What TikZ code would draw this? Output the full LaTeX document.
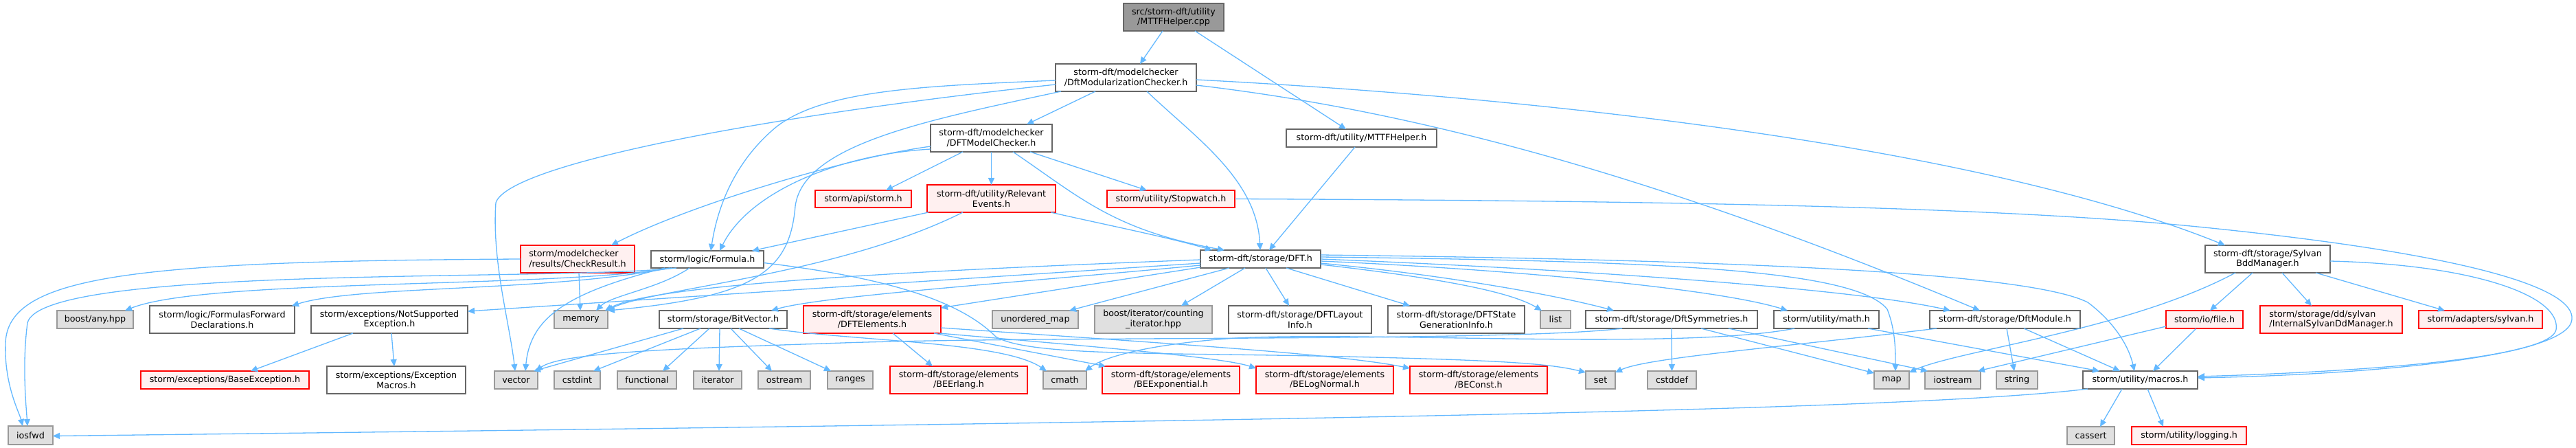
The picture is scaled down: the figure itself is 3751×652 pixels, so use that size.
\documentclass[tikz,border=0pt]{standalone}
\usepackage{fontspec}
\setmainfont{DejaVu Sans}
\usetikzlibrary{arrows.meta,calc}
\definecolor{edgec}{HTML}{63B8FF}
\definecolor{redb}{HTML}{FF0000}
\definecolor{redf}{HTML}{FFF0F0}
\definecolor{grayf}{HTML}{E0E0E0}
\definecolor{grayb}{HTML}{999999}
\definecolor{whiteb}{HTML}{666666}
\definecolor{topf}{HTML}{999999}
\newcommand{\mkbox}[7]{\node[#6, minimum width={(#4-#2)*1pt}, minimum height={(#5-#3)*1pt}] (#1) at ({(#2+#4)/2},{(#3+#5)/2}) {#7};}
\begin{document}
\begin{tikzpicture}[x=1pt,y=-1pt,
  box/.style={draw, rectangle, inner sep=0pt, outer sep=0pt, line width=1.6pt, align=center, font=\fontsize{12.7}{14.7}\selectfont, text=black},
  wbox/.style={box, draw=whiteb, fill=white},
  gbox/.style={box, draw=grayb, fill=grayf},
  rbox/.style={box, draw=redb, fill=redf},
  tbox/.style={box, draw=whiteb, fill=topf},
  dep/.style={draw=edgec, line width=1.3pt, -{Triangle[length=10pt,width=9pt]}}
]
\useasboundingbox (0,0) rectangle (3751,652);
% nodes
\mkbox{cpp}{1636}{5}{1782}{45}{tbox}{src/storm-dft/utility\\/MTTFHelper.cpp}
\mkbox{dmc}{1537}{93}{1742}{133}{wbox}{storm-dft/modelchecker\\/DftModularizationChecker.h}
\mkbox{mck}{1355}{181}{1532}{221}{wbox}{storm-dft/modelchecker\\/DFTModelChecker.h}
\mkbox{mth}{1873}{188}{2092}{214}{wbox}{storm-dft/utility/MTTFHelper.h}
\mkbox{api}{1187}{277}{1327}{302}{rbox}{storm/api/storm.h}
\mkbox{rel}{1350}{269}{1537}{309}{rbox}{storm-dft/utility/Relevant\\Events.h}
\mkbox{stw}{1612}{277}{1798}{302}{rbox}{storm/utility/Stopwatch.h}
\mkbox{chk}{758}{357}{924}{397}{rbox,align=left}{storm/modelchecker\\/results/CheckResult.h}
\mkbox{frm}{948}{365}{1112}{390}{wbox}{storm/logic/Formula.h}
\mkbox{dft}{1748}{364}{1923}{390}{wbox}{storm-dft/storage/DFT.h}
\mkbox{syl}{3211}{357}{3393}{397}{wbox}{storm-dft/storage/Sylvan\\BddManager.h}
\mkbox{any}{83}{452}{194}{478}{gbox}{boost/any.hpp}
\mkbox{ffd}{218}{445}{429}{485}{wbox}{storm/logic/FormulasForward\\Declarations.h}
\mkbox{nse}{453}{445}{681}{485}{wbox}{storm/exceptions/NotSupported\\Exception.h}
\mkbox{mem}{807}{452}{885}{478}{gbox}{memory}
\mkbox{bv}{960}{452}{1146}{478}{wbox}{storm/storage/BitVector.h}
\mkbox{ele}{1170}{445}{1370}{485}{rbox}{storm-dft/storage/elements\\/DFTElements.h}
\mkbox{umap}{1445}{452}{1570}{478}{gbox}{unordered\_map}
\mkbox{cnt}{1594}{445}{1765}{485}{gbox}{boost/iterator/counting\\\_iterator.hpp}
\mkbox{lay}{1789}{445}{1997}{485}{wbox}{storm-dft/storage/DFTLayout\\Info.h}
\mkbox{sgi}{2021}{445}{2220}{485}{wbox}{storm-dft/storage/DFTState\\GenerationInfo.h}
\mkbox{lst}{2243}{452}{2287}{478}{gbox}{list}
\mkbox{sym}{2309}{452}{2559}{478}{wbox}{storm-dft/storage/DftSymmetries.h}
\mkbox{mat}{2583}{452}{2736}{478}{wbox}{storm/utility/math.h}
\mkbox{mod}{2810}{452}{3029}{478}{wbox}{storm-dft/storage/DftModule.h}
\mkbox{fil}{3154}{452}{3266}{478}{rbox}{storm/io/file.h}
\mkbox{isd}{3291}{445}{3498}{485}{rbox,align=left}{storm/storage/dd/sylvan\\/InternalSylvanDdManager.h}
\mkbox{ads}{3522}{452}{3702}{478}{rbox}{storm/adapters/sylvan.h}
\mkbox{bex}{205}{540}{450}{566}{rbox}{storm/exceptions/BaseException.h}
\mkbox{exm}{476}{533}{678}{573}{wbox}{storm/exceptions/Exception\\Macros.h}
\mkbox{vec}{720}{540}{783}{566}{gbox}{vector}
\mkbox{cst}{807}{540}{874}{566}{gbox}{cstdint}
\mkbox{fun}{899}{540}{985}{566}{gbox}{functional}
\mkbox{itr}{1010}{540}{1080}{566}{gbox}{iterator}
\mkbox{ost}{1104}{540}{1180}{566}{gbox}{ostream}
\mkbox{rng}{1205}{540}{1271}{566}{gbox}{ranges}
\mkbox{ber}{1296}{533}{1496}{573}{rbox}{storm-dft/storage/elements\\/BEErlang.h}
\mkbox{cma}{1519}{540}{1582}{566}{gbox}{cmath}
\mkbox{bee}{1605}{533}{1805}{573}{rbox}{storm-dft/storage/elements\\/BEExponential.h}
\mkbox{bel}{1829}{533}{2029}{573}{rbox}{storm-dft/storage/elements\\/BELogNormal.h}
\mkbox{bec}{2053}{533}{2253}{573}{rbox}{storm-dft/storage/elements\\/BEConst.h}
\mkbox{set}{2309}{540}{2352}{566}{gbox}{set}
\mkbox{csd}{2399}{540}{2470}{566}{gbox}{cstddef}
\mkbox{map}{2729}{540}{2780}{566}{gbox}{map}
\mkbox{ios}{2803}{540}{2884}{566}{gbox}{iostream}
\mkbox{str}{2907}{540}{2967}{566}{gbox}{string}
\mkbox{mac}{3033}{540}{3200}{566}{wbox}{storm/utility/macros.h}
\mkbox{iof}{12}{620}{77}{647}{gbox}{iosfwd}
\mkbox{cas}{3010}{621}{3079}{647}{gbox}{cassert}
\mkbox{log}{3104}{621}{3271}{647}{rbox}{storm/utility/logging.h}
% edges
\draw[dep] ($(cpp.south west)+(57,0)$) -- ($(dmc.north west)+(123,0)$);
\draw[dep] ($(cpp.south west)+(104,0)$) -- ($(mth.north west)+(87,0)$);
\draw[dep] ($(mth.south west)+(100,0)$) -- ($(dft.north west)+(100,0)$);
\draw[dep] ($(dmc.south west)+(58,0)$) -- ($(mck.north west)+(140,0)$);
\draw[dep] ($(dmc.south west)+(133,0)$) .. controls (1740,200) and (1830,260) .. ($(dft.north west)+(87,0)$);
\draw[dep] ($(dmc.east)+(0,3)$) .. controls (2300,145) and (2900,220) .. ($(syl.north west)+(29,0)$);
\draw[dep] ($(dmc.east)+(0,11)$) .. controls (2050,160) and (2400,250) .. ($(mod.north west)+(73,0)$);
\draw[dep] ($(dmc.west)+(0,4)$) .. controls (1350,125) and (1200,130) .. (1130,185) .. controls (1070,235) and (1045,300) .. ($(frm.north west)+(87,0)$);
\draw[dep] ($(dmc.west)+(0,10)$) .. controls (1100,170) and (740,240) .. (722,295) .. controls (716,380) and (742,470) .. ($(vec.north west)+(30,0)$);
\draw[dep] ($(dmc.south west)+(8,0)$) .. controls (1350,175) and (1170,210) .. (1158,300) .. controls (1150,395) and (1100,432) .. ($(mem.north east)+(0,0)$);
\draw[dep] ($(mck.south west)+(47,0)$) -- ($(api.north west)+(103,0)$);
\draw[dep] (mck.south) -- (rel.north);
\draw[dep] ($(mck.south west)+(145,0)$) -- ($(stw.north west)+(58,0)$);
\draw[dep] ($(mck.south west)+(120,0)$) .. controls (1570,285) and (1620,335) .. ($(dft.north west)+(35,0)$);
\draw[dep] ($(mck.west)+(0,12)$) .. controls (1230,230) and (1000,300) .. ($(chk.north west)+(132,0)$);
\draw[dep] ($(mck.west)+(0,16)$) .. controls (1220,225) and (1090,280) .. ($(frm.north west)+(100,0)$);
\draw[dep] ($(rel.south west)+(180,0)$) .. controls (1600,325) and (1700,345) .. ($(dft.north west)+(17,0)$);
\draw[dep] ($(rel.south west)+(2,0)$) -- ($(frm.north west)+(147,0)$);
\draw[dep] ($(rel.south west)+(52,0)$) .. controls (1220,400) and (950,420) .. ($(mem.north east)+(-2,0)$);
\draw[dep] ($(chk.south west)+(85,0)$) -- ($(mem.north west)+(38,0)$);
\draw[dep] (chk.west) .. controls (200,380) and (10,400) .. (8,500) .. controls (6,560) and (28,600) .. ($(iof.north west)+(21,0)$);
\draw[dep] ($(frm.south west)+(37,0)$) .. controls (800,410) and (60,385) .. (40,470) .. controls (32,530) and (38,590) .. ($(iof.north west)+(28,0)$);
\draw[dep] ($(frm.south west)+(30,0)$) .. controls (800,420) and (300,405) .. ($(any.north east)+(-12,0)$);
\draw[dep] ($(frm.south west)+(27,0)$) .. controls (800,425) and (520,415) .. ($(ffd.north east)+(-4,0)$);
\draw[dep] ($(frm.south west)+(56,0)$) .. controls (960,420) and (890,430) .. ($(mem.north west)+(61,0)$);
\draw[dep] ($(frm.south west)+(20,0)$) .. controls (830,425) and (772,460) .. ($(vec.north west)+(45,0)$);
\draw[dep] ($(frm.east)+(0,5)$) .. controls (1300,405) and (1400,440) .. (1450,490) .. controls (1500,520) and (1700,512) .. (2000,520) .. controls (2200,525) and (2260,530) .. ($(set.north west)+(0,2)$);
\draw[dep] ($(dft.west)+(0,6)$) -- ($(nse.east)+(0,-12)$);
\draw[dep] ($(dft.west)+(0,1)$) .. controls (1300,395) and (950,415) .. ($(mem.north east)+(-4,0)$);
\draw[dep] ($(dft.west)+(0,9)$) .. controls (1500,410) and (1200,430) .. ($(bv.north east)+(-23,0)$);
\draw[dep] ($(dft.west)+(0,12)$) -- ($(ele.east)+(0,-17)$);
\draw[dep] ($(dft.south west)+(42,0)$) -- ($(umap.north east)+(-13,0)$);
\draw[dep] ($(dft.south west)+(65,0)$) -- ($(cnt.north west)+(126,0)$);
\draw[dep] ($(dft.south west)+(95,0)$) -- ($(lay.north west)+(88,0)$);
\draw[dep] ($(dft.south west)+(125,0)$) -- ($(sgi.north west)+(32,0)$);
\draw[dep] ($(dft.east)+(0,8)$) .. controls (2100,405) and (2200,425) .. ($(lst.north west)+(2,0)$);
\draw[dep] ($(dft.east)+(0,6)$) .. controls (2100,400) and (2260,428) .. ($(sym.north west)+(41,0)$);
\draw[dep] ($(dft.east)+(0,3)$) .. controls (2200,392) and (2500,420) .. ($(mat.north west)+(20,0)$);
\draw[dep] ($(dft.east)+(0,0)$) .. controls (2300,392) and (2700,420) .. ($(mod.north west)+(30,0)$);
\draw[dep] ($(dft.east)+(0,-3)$) .. controls (2400,380) and (2700,390) .. (2748,450) .. controls (2760,480) and (2760,510) .. ($(map.north west)+(31,0)$);
\draw[dep] ($(dft.east)+(0,-6)$) .. controls (2500,378) and (2950,395) .. (3040,440) .. controls (3080,470) and (3100,505) .. ($(mac.north west)+(75,0)$);
\draw[dep] (sym.south) -- (csd.north);
\draw[dep] ($(sym.south west)+(53,0)$) .. controls (2200,498) and (1500,488) .. (1200,500) .. controls (950,508) and (815,515) .. ($(vec.north east)+(-3,0)$);
\draw[dep] ($(sym.south west)+(168,0)$) -- ($(map.west)+(0,-10)$);
\draw[dep] ($(sym.south west)+(208,0)$) -- ($(ios.north west)+(4,0)$);
\draw[dep] ($(mat.south west)+(30,0)$) .. controls (2450,510) and (2000,482) .. (1800,492) .. controls (1680,500) and (1610,518) .. ($(cma.north east)+(-2,0)$);
\draw[dep] ($(mat.south west)+(137,0)$) -- ($(mac.north west)+(24,0)$);
\draw[dep] ($(mod.south west)+(10,0)$) .. controls (2600,505) and (2400,520) .. ($(set.north east)+(0,2)$);
\draw[dep] ($(mod.south west)+(112,0)$) -- ($(str.north west)+(26,0)$);
\draw[dep] ($(mod.south west)+(137,0)$) -- ($(mac.north west)+(54,0)$);
\draw[dep] ($(bv.south west)+(35,0)$) -- ($(vec.north east)+(-6,0)$);
\draw[dep] ($(bv.south west)+(60,0)$) -- ($(cst.north east)+(-10,0)$);
\draw[dep] ($(bv.south west)+(73,0)$) -- ($(fun.north east)+(-20,0)$);
\draw[dep] ($(bv.south west)+(88,0)$) -- ($(itr.north west)+(37,0)$);
\draw[dep] ($(bv.south west)+(104,0)$) -- ($(ost.north west)+(20,0)$);
\draw[dep] ($(bv.south west)+(116,0)$) -- ($(rng.north west)+(5,0)$);
\draw[dep] ($(bv.south east)+(-26,0)$) .. controls (1250,497) and (1460,497) .. ($(cma.north west)+(5,0)$);
\draw[dep] ($(ele.south west)+(130,0)$) -- ($(ber.north west)+(62,0)$);
\draw[dep] ($(ele.south east)+(-10,0)$) -- ($(bee.north west)+(5,0)$);
\draw[dep] ($(ele.south east)+(-2,0)$) .. controls (1600,505) and (1780,520) .. ($(bel.west)+(0,-17)$);
\draw[dep] ($(ele.east)+(0,12)$) .. controls (1700,500) and (1950,515) .. ($(bec.west)+(0,-17)$);
\draw[dep] ($(nse.south west)+(61,0)$) -- ($(bex.north west)+(160,0)$);
\draw[dep] ($(nse.south west)+(117,0)$) -- ($(exm.north west)+(98,0)$);
\draw[dep] ($(mac.south west)+(7,0)$) .. controls (2800,595) and (2000,612) .. ($(iof.east)+(0,1)$);
\draw[dep] ($(mac.south west)+(57,0)$) -- ($(cas.north west)+(48,0)$);
\draw[dep] ($(mac.south west)+(94,0)$) -- ($(log.north west)+(46,0)$);
\draw[dep] ($(fil.west)+(0,10)$) -- ($(ios.north east)+(-4,0)$);
\draw[dep] ($(fil.south west)+(44,0)$) -- ($(mac.north west)+(102,0)$);
\draw[dep] ($(syl.south west)+(44,0)$) .. controls (3100,480) and (2850,510) .. ($(map.north east)+(0,2)$);
\draw[dep] ($(syl.south west)+(69,0)$) -- ($(fil.north west)+(64,0)$);
\draw[dep] ($(syl.south west)+(112,0)$) -- ($(isd.north west)+(75,0)$);
\draw[dep] ($(syl.south east)+(-21,0)$) -- ($(ads.north west)+(38,0)$);
\draw[dep] ($(syl.east)+(0,3)$) .. controls (3600,385) and (3730,430) .. (3722,480) .. controls (3712,525) and (3400,542) .. ($(mac.east)+(0,-5)$);
\draw[dep] (stw.east) .. controls (2400,292) and (2900,300) .. (3200,330) .. controls (3600,370) and (3750,420) .. (3745,465) .. controls (3740,520) and (3450,545) .. ($(mac.east)+(0,-3)$);
\end{tikzpicture}
\end{document}
